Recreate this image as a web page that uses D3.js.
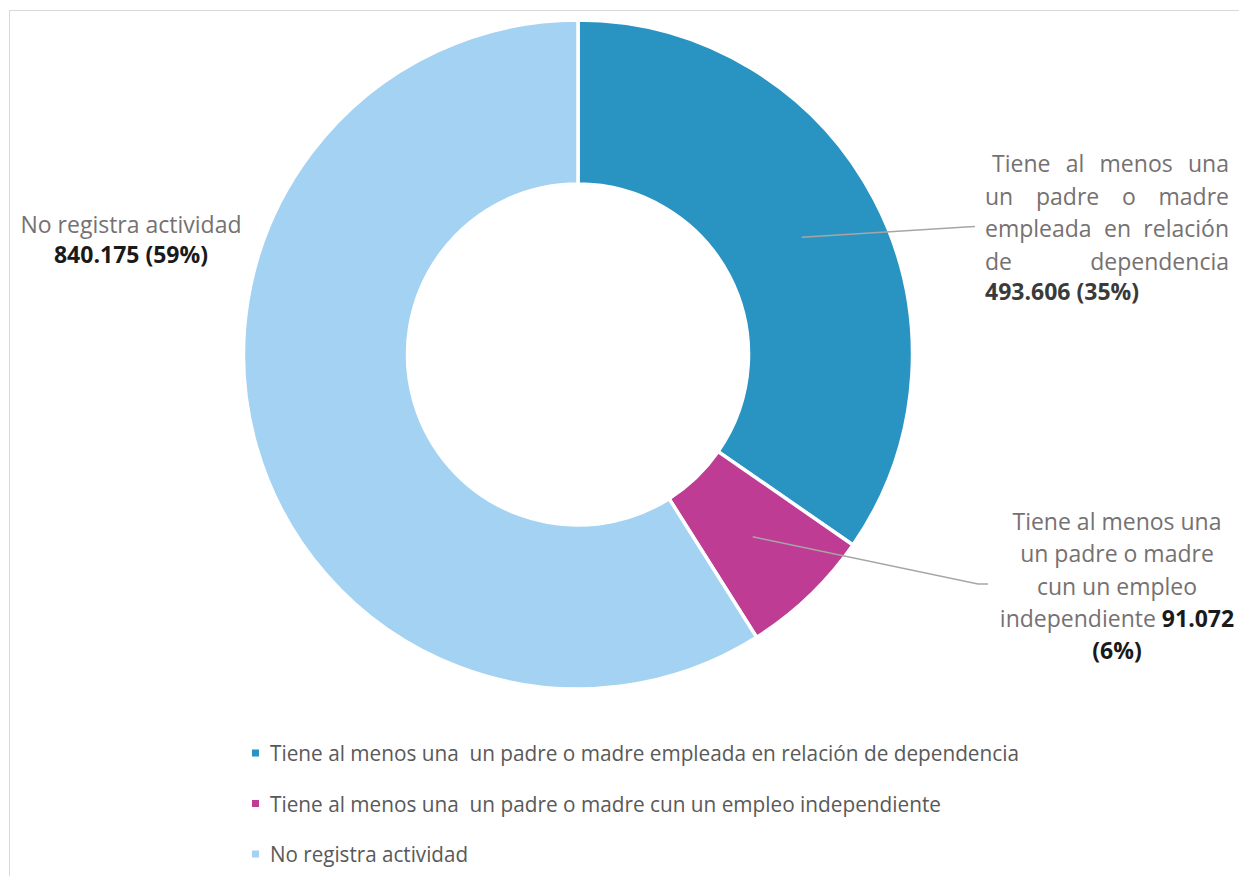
<!DOCTYPE html>
<html>
<head>
<meta charset="utf-8">
<script src="https://cdn.jsdelivr.net/npm/d3@7"></script>
<style>
  body { margin: 0; background: #fff; }
  text { font-family: "Open Sans", sans-serif; }
</style>
</head>
<body>
<svg id="plot" width="1239" height="876"></svg>
<script>
// categories and values
const categories = [
  "Tiene al menos una  un padre o madre empleada en relación de dependencia",
  "Tiene al menos una  un padre o madre cun un empleo independiente",
  "No registra actividad"
];
const values = [493606, 91072, 840175];
const valueLabels = ["493.606", "91.072", "840.175"];
const percentLabels = ["35%", "6%", "59%"];
const colors = ["#2994c2", "#be3c93", "#a4d2f2"];

const svg = d3.select("#plot");

// chart area frame (cropped at right and bottom)
svg.append("rect")
  .attr("x", 9.5).attr("y", 10.5)
  .attr("width", 1400).attr("height", 1000)
  .attr("fill", "none")
  .attr("stroke", "#d9d9d9")
  .attr("stroke-width", 1);

const cx = 578, cy = 354.5;
const outerR = 334.5, innerR = 170.5;

const pie = d3.pie().sort(null).value(d => d);
const arc = d3.arc().innerRadius(innerR).outerRadius(outerR);
const arcs = pie(values);

const g = svg.append("g").attr("transform", `translate(${cx},${cy})`);

g.selectAll("path.slice")
  .data(arcs)
  .enter().append("path")
  .attr("class", "slice")
  .attr("d", arc)
  .attr("fill", (d, i) => colors[i])
  .attr("stroke", "#fff")
  .attr("stroke-width", 3.5)
  .attr("stroke-linejoin", "miter");

// leader lines (only for the two right-side labels)
const leaderEnds = [
  [[966, 227], [975, 226.5]],
  [[978, 584], [988, 584]],
  null
];
arcs.forEach((d, i) => {
  if (!leaderEnds[i]) return;
  const c = arc.centroid(d);
  const pts = [[cx + c[0], cy + c[1]]].concat(leaderEnds[i]);
  svg.append("path")
    .attr("d", d3.line()(pts))
    .attr("fill", "none")
    .attr("stroke", "#a6a6a6")
    .attr("stroke-width", 1.5);
});

const labelGray = "#767171";
const fs = 23;

// label 1: justified block
function justifyLine(words, left, right, y) {
  const tmp = words.map(w => svg.append("text")
    .attr("font-size", fs).attr("fill", labelGray).attr("y", y).text(w));
  const widths = tmp.map(t => t.node().getComputedTextLength());
  const total = d3.sum(widths);
  const gap = words.length > 1 ? (right - left - total) / (words.length - 1) : 0;
  let x = left;
  tmp.forEach((t, k) => { t.attr("x", x); x += widths[k] + gap; });
}
const lab1Left = 985, lab1Right = 1229, lab1Top = 172, lh = 32.5;
const lab1Lines = [
  ["Tiene", "al", "menos", "una"],
  ["un", "padre", "o", "madre"],
  ["empleada", "en", "relación"],
  ["de", "dependencia"]
];
lab1Lines.forEach((words, k) => {
  justifyLine(words, k === 0 ? lab1Left + 7 : lab1Left, lab1Right, lab1Top + k * lh);
});
svg.append("text")
  .attr("x", lab1Left).attr("y", lab1Top + 4 * lh - 2)
  .attr("font-size", fs).attr("font-weight", "bold").attr("fill", "#3a3a3a")
  .text(`${valueLabels[0]} (${percentLabels[0]})`);

// label 2: centered block
const lab2X = 1117, lab2Top = 530, lh2 = 32.3;
const lab2Lines = ["Tiene al menos una", "un padre o madre", "cun un empleo"];
lab2Lines.forEach((t, k) => {
  svg.append("text")
    .attr("x", lab2X).attr("y", lab2Top + k * lh2)
    .attr("text-anchor", "middle")
    .attr("font-size", fs).attr("fill", labelGray)
    .text(t);
});
const l2 = svg.append("text")
  .attr("x", lab2X).attr("y", lab2Top + 3 * lh2)
  .attr("text-anchor", "middle")
  .attr("font-size", fs).attr("fill", labelGray);
l2.append("tspan").text("independiente ");
l2.append("tspan").attr("font-weight", "bold").attr("fill", "#1a1a1a").text(valueLabels[1]);
svg.append("text")
  .attr("x", lab2X).attr("y", lab2Top + 4 * lh2)
  .attr("text-anchor", "middle")
  .attr("font-size", fs).attr("font-weight", "bold").attr("fill", "#1a1a1a")
  .text(`(${percentLabels[1]})`);

// label 3: left side
svg.append("text")
  .attr("x", 131).attr("y", 233)
  .attr("text-anchor", "middle")
  .attr("font-size", fs).attr("fill", labelGray)
  .text(categories[2]);
svg.append("text")
  .attr("x", 131).attr("y", 263)
  .attr("text-anchor", "middle")
  .attr("font-size", fs).attr("font-weight", "bold").attr("fill", "#1a1a1a")
  .text(`${valueLabels[2]} (${percentLabels[2]})`);

// legend
const legendLengths = [749, 671, 198];
const legend = svg.append("g").attr("transform", "translate(252,761)");
categories.forEach((c, i) => {
  const row = legend.append("g").attr("transform", `translate(0,${i * 50.5})`);
  row.append("rect")
    .attr("x", 0).attr("y", -11.5)
    .attr("width", 7).attr("height", 7)
    .attr("fill", colors[i]);
  row.append("text")
    .attr("x", 18).attr("y", 0)
    .attr("font-size", 21)
    .attr("fill", "#595959")
    .style("white-space", "pre")
    .attr("textLength", legendLengths[i])
    .attr("lengthAdjust", "spacingAndGlyphs")
    .text(c);
});
</script>
</body>
</html>
